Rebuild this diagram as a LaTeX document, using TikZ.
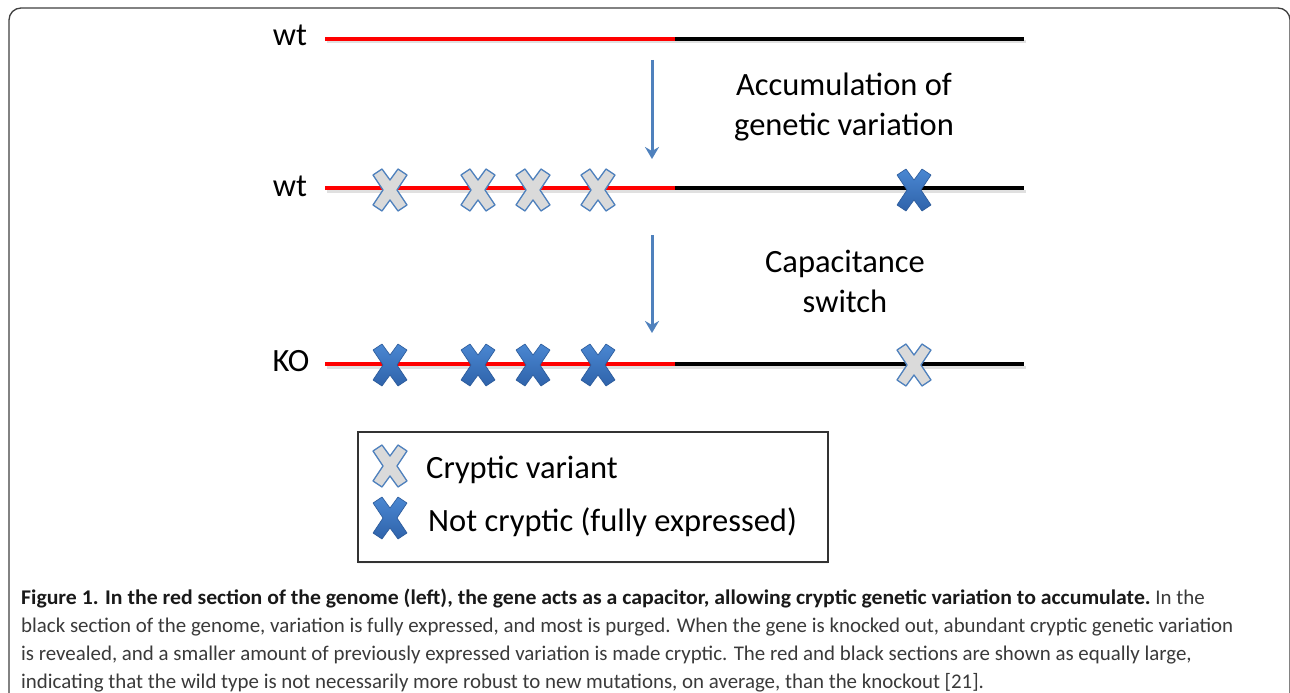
\documentclass[tikz,border=0pt]{standalone}
\usepackage{fontspec}
\setmainfont{Carlito}
\usetikzlibrary{shadows,arrows.meta}
\definecolor{xblue}{HTML}{4F81BD}
\definecolor{xdarktop}{HTML}{4A87D2}
\definecolor{xdarkbot}{HTML}{2F63AA}
\definecolor{xlight}{HTML}{DADADA}
\definecolor{capgray}{HTML}{3A3A3A}
\definecolor{gred}{HTML}{FF0000}
\tikzset{
  xshape/.pic={\path[pic actions] (-17,-15) -- (-8,-21) -- (0,-10) -- (8,-21) -- (17,-15) -- (7,0)
      -- (17,15) -- (8,21) -- (0,10) -- (-8,21) -- (-17,15) -- (-7,0) -- cycle;},
  lightx/.style={fill=xlight, draw=xblue, line width=1.3pt, line join=round,
      drop shadow={shadow xshift=2pt, shadow yshift=-3pt, opacity=0.3}},
  darkx/.style={top color=xdarktop, bottom color=xdarkbot, draw=xdarkbot!90!black, line width=0.6pt, line join=round,
      drop shadow={shadow xshift=2pt, shadow yshift=-3pt, opacity=0.3}},
  redline/.style={draw=gred, line width=4pt},
  blackline/.style={draw=black, line width=4pt},
  lineshadow/.style={draw=black, line width=3pt, opacity=0.12},
  flowarrow/.style={draw=xblue, line width=3pt, -{Stealth[length=12pt,width=14pt,inset=4pt]}},
  lbl/.style={font=\fontsize{32.5}{40}\selectfont, inner sep=0pt},
  caplbl/.style={font=\fontsize{20.9}{28}\selectfont, inner sep=0pt, anchor=base west, text=capgray},
}
\begin{document}
\begin{tikzpicture}[x=1pt, y=-1pt]
\useasboundingbox (0,0) rectangle (1290,693);
\fill[white] (0,0) rectangle (1290,693);
% frame
\draw[black!75, line width=1.3pt, rounded corners=12pt] (9,720) -- (9,8) -- (1290,8) -- (1290,720);

% genome lines
\foreach \n/\y in {a/39, b/188, c/364}{
  \coordinate (\n L) at (325,\y);
  \coordinate (\n M) at (675,\y);
  \coordinate (\n R) at (1024,\y);
  \draw[lineshadow] ([shift={(2,3)}]\n L) -- ([shift={(2,3)}]\n R);
  \draw[redline] (\n L) -- (\n M);
  \draw[blackline] (\n M) -- (\n R);
}
\node[lbl] (wt1) at (290,35) {wt};
\node[lbl] (wt2) at (290,186) {wt};
\node[lbl] (ko) at (291,361) {KO};

% arrows
\coordinate (ar1s) at (652,60);
\coordinate (ar1e) at (652,159);
\coordinate (ar2s) at (652,235);
\coordinate (ar2e) at (652,333);
\draw[flowarrow] (ar1s) -- (ar1e);
\draw[flowarrow] (ar2s) -- (ar2e);

\node[lbl, align=center] (acc) at (844,107) {Accumulation of\\genetic variation};
\node[lbl, align=center] (cap) at (845,281) {Capacitance\\switch};

% crosses row 2
\foreach \x in {390,478,533,598}{ \pic[lightx] at (\x,190) {xshape}; }
\pic[darkx] at (914,190) {xshape};
% crosses row 3
\foreach \x in {390,478,533,598}{ \pic[darkx] at (\x,365) {xshape}; }
\pic[lightx] at (914,365) {xshape};

% legend
\node[draw=black!80, line width=1.2pt, minimum width=470pt, minimum height=130pt, inner sep=0pt,
  drop shadow={shadow xshift=0pt, shadow yshift=-2pt, opacity=0.08}, fill=white] (legend) at (593,497) {};
\pic[lightx] at (390,466) {xshape};
\pic[darkx] at (390,518) {xshape};
\node[lbl, anchor=west] (l1) at (426,470) {Cryptic variant};
\node[lbl, anchor=west] (l2) at (428,522) {Not cryptic (fully expressed)};

% caption
\node[caplbl] (c1) at (21,604) {{\color{black!90}\bfseries\scalebox{1.04}[1]{Figure 1. In the red section of the genome (left), the gene acts as a capacitor, allowing cryptic genetic variation to accumulate.}} In the};
\node[caplbl] (c2) at (21,632) {black section of the genome, variation is fully expressed, and most is purged. When the gene is knocked out, abundant cryptic genetic variation};
\node[caplbl] (c3) at (21,660) {is revealed, and a smaller amount of previously expressed variation is made cryptic. The red and black sections are shown as equally large,};
\node[caplbl] (c4) at (21,688) {indicating that the wild type is not necessarily more robust to new mutations, on average, than the knockout [21].};
\end{tikzpicture}
\end{document}
